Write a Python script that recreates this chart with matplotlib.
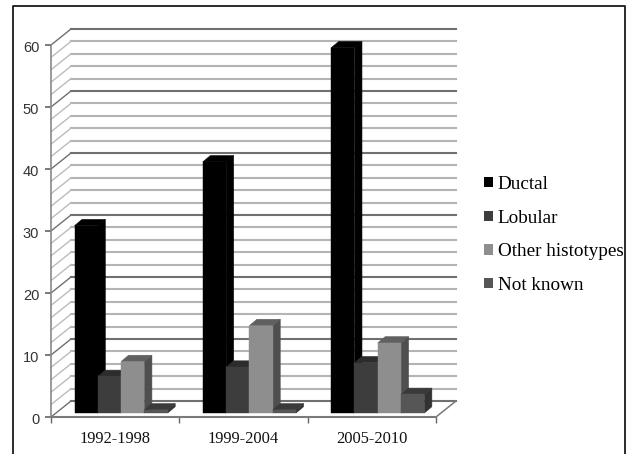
import matplotlib
matplotlib.use("Agg")
import matplotlib.pyplot as plt
from matplotlib.patches import Polygon, Patch
from matplotlib.lines import Line2D
from matplotlib.transforms import ScaledTranslation

categories = ["1992-1998", "1999-2004", "2005-2010"]
series_names = ["Ductal", "Lobular", "Other histotypes", "Not known"]
ductal = [30.2, 40.5, 58.9]
lobular = [5.9, 7.4, 8.1]
other = [8.3, 14.1, 11.3]
not_known = [0.5, 0.5, 3.0]

W, H = 632, 454
fig = plt.figure(figsize=(W / 100, H / 100), dpi=100, facecolor="white")
X0, X1, Y0, Y60 = 51, 436, 417, 45
ax = fig.add_axes([X0 / W, 1 - Y0 / H, (X1 - X0) / W, (Y0 - Y60) / H])
ax.set_xlim(0, 3)
ax.set_ylim(0, 60)
ax.patch.set_alpha(0)
px_x = 3 / (X1 - X0)
px_y = 60 / (Y0 - Y60)
depth_x, depth_y = 20 * px_x, 16 * px_y

# back wall, side wall and floor grid
for v in range(0, 62, 2):
    major = v % 10 == 0
    c = "#707070" if major else "#b4b4b4"
    ax.plot([depth_x, 3 + depth_x], [v + depth_y, v + depth_y], color=c, lw=1.5, clip_on=False, zorder=1)
    ax.plot([0, depth_x], [v, v + depth_y], color="#707070" if major else "#bcbcbc", lw=1.0, clip_on=False, zorder=1)
ax.plot([3, 3 + depth_x], [0, depth_y], color="#777777", lw=1.1, clip_on=False, zorder=1)

# 3-D bars
front_dx, front_dy = 5 * px_x, 4 * px_y
bar_w = 23.3 * px_x
top_dx, top_dy = 7.5 * px_x, 6.3 * px_y
group_gap = 18.5 * px_x
styles = [
    ("#000000", "#000000", "#000000"),
    ("#3d3d3d", "#2c2c2c", "#2a2a2a"),
    ("#8e8e8e", "#606060", "#4f4f4f"),
    ("#565656", "#3a3a3a", "#323232"),
]
all_series = [ductal, lobular, other, not_known]
for g in range(len(categories)):
    for s, vals in enumerate(all_series):
        v = vals[g]
        x = g + front_dx + group_gap + s * bar_w
        x2 = x + bar_w
        y0 = front_dy
        y1 = y0 + v
        front, top, side = styles[s]
        z = 3 + s * 0.1
        ax.add_patch(Polygon([(x2, y0), (x2 + top_dx, y0 + top_dy), (x2 + top_dx, y1 + top_dy), (x2, y1)],
                             fc=side, ec=side, lw=0.4, zorder=z, clip_on=False))
        ax.add_patch(Polygon([(x, y1), (x + top_dx, y1 + top_dy), (x2 + top_dx, y1 + top_dy), (x2, y1)],
                             fc=top, ec=top, lw=0.4, zorder=z, clip_on=False))
        ax.add_patch(Polygon([(x, y0), (x2, y0), (x2, y1), (x, y1)],
                             fc=front, ec=front, lw=0.3, zorder=z + 0.05, clip_on=False))

# axes, ticks, labels
for name in ("top", "right"):
    ax.spines[name].set_visible(False)
ax.spines["left"].set_color("#8a8a8a")
ax.spines["left"].set_linewidth(1.2)
ax.spines["bottom"].set_color("#7a7a7a")
ax.spines["bottom"].set_linewidth(1.5)
ax.set_yticks(range(0, 61, 10))
ax.set_yticklabels([str(v) for v in range(0, 61, 10)], fontsize=10.5, color="#333333", family="Liberation Sans")
ax.tick_params(axis="y", length=4, width=1.1, color="#555555", pad=4.5)
shift = ScaledTranslation(0, -1.5 / 100, fig.dpi_scale_trans)
for lab in ax.get_yticklabels():
    lab.set_transform(lab.get_transform() + shift)
ax.set_xticks([0, 1, 2, 3])
ax.set_xticklabels([])
ax.tick_params(axis="x", length=4, width=1, color="#666666")
ax.set_xticks([0.5, 1.5, 2.5], minor=True)
ax.set_xticklabels(categories, minor=True, fontsize=11.9, family="Liberation Serif", color="#111111")
ax.tick_params(axis="x", which="minor", length=0, pad=10)

handles = [Patch(fc=styles[i][0], label=series_names[i]) for i in range(4)]
fig.legend(handles=handles, loc="center left", bbox_to_anchor=(484 / W, 1 - 235 / H), frameon=False,
           prop={"family": "Liberation Serif", "size": 13.8}, handlelength=0.46, handleheight=0.46,
           handletextpad=0.25, labelspacing=0.87, borderpad=0, borderaxespad=0)

# outer frame, open at the bottom edge of the picture
fig.add_artist(Line2D([13 / W, 13 / W, 625 / W, 625 / W], [0, 1 - 6 / H, 1 - 6 / H, 0], color="#1a1a1a", lw=1.3))

fig.savefig("out.png", dpi=100)
